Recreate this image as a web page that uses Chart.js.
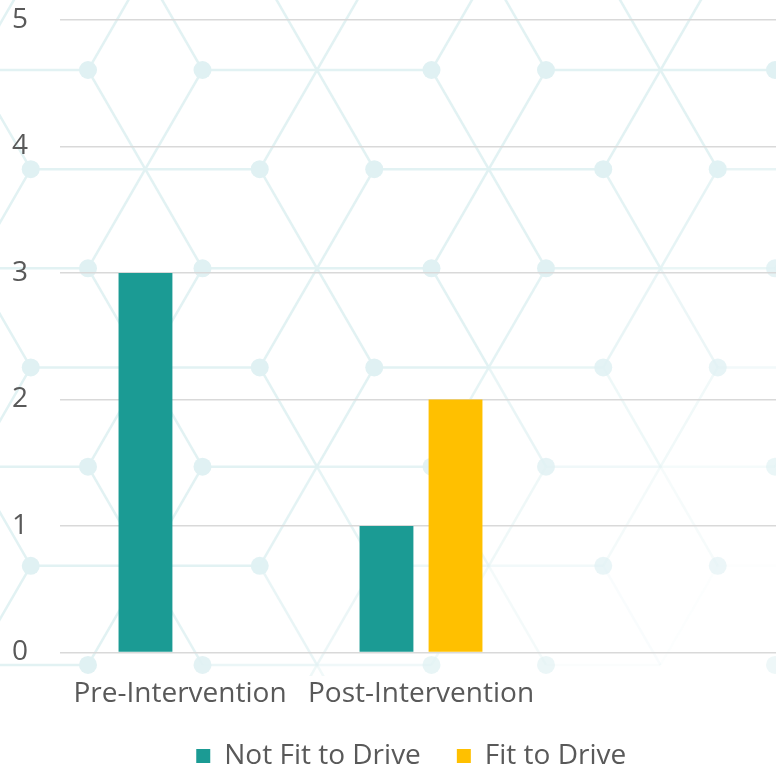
<!DOCTYPE html>
<html lang="en">
<head>
  <meta charset="UTF-8" />
  <title>Fitness to Drive</title>
  <script src="https://cdn.jsdelivr.net/npm/chart.js"></script>
  <style>
    html, body { margin: 0; padding: 0; background: #fff; overflow: hidden; }
    .wrap { width: 784px; height: 769px; }
  </style>
</head>
<body>
  <div class="wrap"><canvas id="fitChart"></canvas></div>

  <script>
    const categories = ['Pre-Intervention', 'Post-Intervention', ''];
    const notFit = [3, 1, null];
    const fit = [0, 2, null];
    const yTicks = [0, 1, 2, 3, 4, 5];

    const textColor = '#595959';
    const fontFamily = 'Open Sans';

    // faint honeycomb lattice behind the plot, fading out toward the lower right
    const lattice = {
      id: 'lattice',
      beforeDraw(chart) {
        const ctx = chart.ctx;
        const side = 114.5;
        const rowH = side * Math.sqrt(3) / 2;
        const fade = (x, y) => Math.max(0, Math.min(1, (1.9 - x / 776 - y / 664) / 0.8));
        const centers = [], dots = [];
        for (let r = -1; r <= 6; r++) {
          const y = 70 + r * rowH;
          const even = ((r % 2) + 2) % 2 === 0;
          const x0 = even ? 88 : 88 - side / 2;
          for (let k = -2; k <= 9; k++) {
            const x = x0 + k * side;
            const m = ((k % 3) + 3) % 3;
            if ((even && m === 2) || (!even && m === 1)) centers.push([x, y]);
            else dots.push([x, y]);
          }
        }
        ctx.save();
        ctx.fillStyle = '#ffffff';
        ctx.fillRect(0, 0, chart.width, chart.height);
        ctx.beginPath();
        ctx.rect(0, 0, chart.width, 676);
        ctx.clip();
        ctx.strokeStyle = '#e2f2f3';
        ctx.lineWidth = 2.5;
        centers.forEach(([cx, cy]) => {
          for (let a = 0; a < 6; a++) {
            const t = a * Math.PI / 3;
            const ex = cx + side * Math.cos(t), ey = cy + side * Math.sin(t);
            ctx.globalAlpha = fade((cx + ex) / 2, (cy + ey) / 2);
            ctx.beginPath();
            ctx.moveTo(cx, cy);
            ctx.lineTo(ex, ey);
            ctx.stroke();
          }
        });
        ctx.fillStyle = '#e0f1f3';
        dots.forEach(([x, y]) => {
          ctx.globalAlpha = 0.55 + 0.45 * fade(x, y);
          ctx.beginPath();
          ctx.arc(x, y, 9, 0, Math.PI * 2);
          ctx.fill();
        });
        ctx.restore();
      }
    };

    // move the legend row a little right and up
    const legendNudge = {
      id: 'legendNudge',
      afterLayout(chart) {
        const lg = chart.legend;
        lg.left += 14; lg.right += 14;
        lg.top -= 3; lg.bottom -= 3;
      }
    };

    const ctx = document.getElementById('fitChart').getContext('2d');
    new Chart(ctx, {
      type: 'bar',
      data: {
        labels: categories,
        datasets: [
          {
            label: 'Not Fit to Drive',
            data: notFit,
            backgroundColor: '#1b9b94',
            categoryPercentage: 0.573,
            barPercentage: 0.78
          },
          {
            label: 'Fit to Drive',
            data: fit,
            backgroundColor: '#ffc000',
            categoryPercentage: 0.573,
            barPercentage: 0.78
          }
        ]
      },
      options: {
        responsive: true,
        maintainAspectRatio: false,
        animation: false,
        layout: { padding: { left: 12, top: 20, right: 1.5, bottom: 0 } },
        plugins: {
          tooltip: { enabled: false },
          legend: {
            position: 'bottom',
            maxHeight: 60,
            labels: {
              color: textColor,
              font: { family: fontFamily, size: 28 },
              boxWidth: 14,
              boxHeight: 14,
              padding: 36
            }
          }
        },
        scales: {
          x: {
            afterFit(axis) { axis.height -= 19; },
            grid: { display: false },
            border: { display: false },
            ticks: {
              color: textColor,
              font: { family: fontFamily, size: 28 },
              padding: 17,
              maxRotation: 0,
              autoSkip: false
            }
          },
          y: {
            min: 0,
            max: 5,
            afterBuildTicks(axis) { axis.ticks = yTicks.map(v => ({ value: v })); },
            afterFit(axis) { axis.width = 47.5; },
            grid: { color: '#d9d9d9', lineWidth: 1.5, drawTicks: false },
            border: { display: false },
            ticks: {
              color: textColor,
              font: { family: fontFamily, size: 28 },
              padding: 2,
              crossAlign: 'far'
            }
          }
        }
      },
      plugins: [lattice, legendNudge]
    });
  </script>
</body>
</html>
